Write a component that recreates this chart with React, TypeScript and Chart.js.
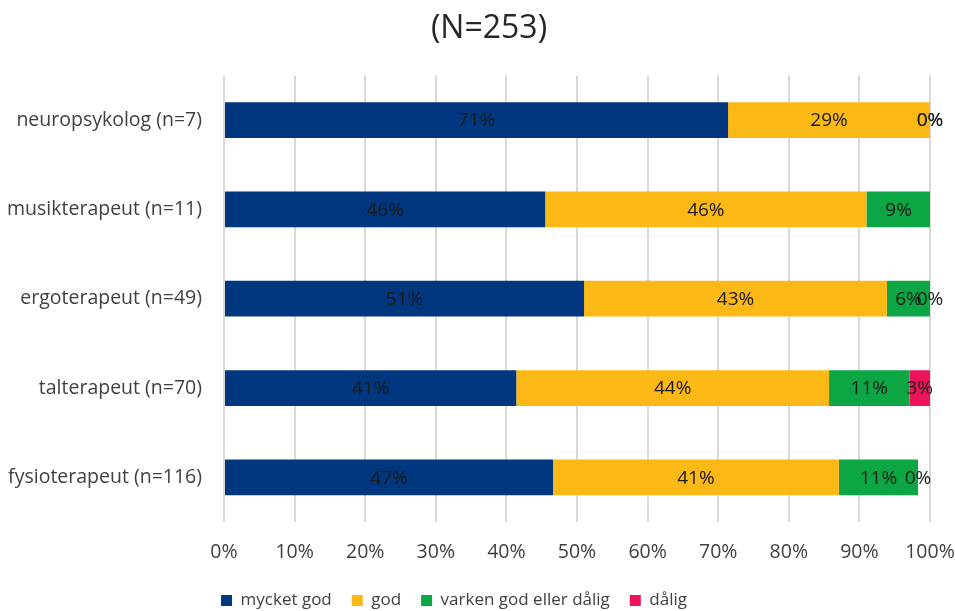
import React, { useEffect, useRef } from "react";
import { Chart, registerables } from "chart.js";

Chart.register(...registerables);

const titleText = "(N=253)";
const categories = [
  "neuropsykolog (n=7)",
  "musikterapeut (n=11)",
  "ergoterapeut (n=49)",
  "talterapeut (n=70)",
  "fysioterapeut (n=116)",
];
const seriesNames = ["mycket god", "god", "varken god eller dålig", "dålig"];
const mycketGod = [71.4, 45.5, 51.0, 41.4, 46.6];
const god = [28.6, 45.5, 42.9, 44.3, 40.5];
const varken = [0, 9.1, 6.1, 11.4, 11.2];
const dalig = [0, 0, 0, 2.9, 0];
const seriesColors = ["#00377F", "#FCB814", "#0CA645", "#EE145C"];
const xTicks = [0, 10, 20, 30, 40, 50, 60, 70, 80, 90, 100];

const FONT = "'Open Sans', 'Noto Sans', sans-serif";

const labelPlugin = {
  id: "segLabels",
  afterLayout(chart: any) {
    if (chart.titleBlock) {
      chart.titleBlock.left += 24;
      chart.titleBlock.right += 24;
    }
    if (chart.legend) {
      chart.legend.left -= 11;
      chart.legend.right -= 11;
    }
  },
  afterDatasetsDraw(chart: any) {
    const ctx = chart.ctx;
    ctx.save();
    ctx.font = `19px ${FONT}`;
    ctx.fillStyle = "#1a1a1a";
    ctx.textAlign = "center";
    ctx.textBaseline = "middle";
    chart.data.datasets.forEach((ds: any, di: number) => {
      const meta = chart.getDatasetMeta(di);
      if (meta.hidden) return;
      meta.data.forEach((el: any, i: number) => {
        const v = ds.data[i];
        if (v === null || v === undefined) return;
        if (di === 3 && v === 0 && i !== 0 && i !== 2 && i !== 4) return;
        const x = (el.x + el.base) / 2;
        ctx.fillText(Math.round(v) + "%", x, el.y + 1);
      });
    });
    ctx.restore();
  },
};

export default function App() {
  const ref = useRef<HTMLCanvasElement>(null);
  useEffect(() => {
    if (!ref.current) return;
    const data = [mycketGod, god, varken, dalig];
    const chart = new Chart(ref.current, {
      type: "bar",
      data: {
        labels: categories,
        datasets: data.map((d, i) => ({
          label: seriesNames[i],
          data: d,
          backgroundColor: seriesColors[i],
          borderWidth: 0,
          barPercentage: 0.4,
          categoryPercentage: 1,
        })),
      },
      options: {
        indexAxis: "y",
        animation: false,
        responsive: false,
        maintainAspectRatio: false,
        layout: { padding: { left: 0, right: 25, top: 10, bottom: 0 } },
        scales: {
          x: {
            stacked: true,
            min: 0,
            max: 100,
            afterBuildTicks: (scale: any) => {
              scale.ticks = xTicks.map((v) => ({ value: v }));
            },
            afterFit: (scale: any) => {
              scale.height = 50;
              scale.paddingLeft = 0;
              scale.paddingRight = 0;
            },
            ticks: {
              callback: (v: any) => v + "%",
              color: "#404040",
              font: { family: FONT, size: 19.5 },
              padding: 19,
            },
            grid: { color: "#D9D9D9", lineWidth: 2, drawTicks: false },
            border: { display: false },
          },
          y: {
            stacked: true,
            afterFit: (scale: any) => {
              scale.width = 224;
            },
            ticks: {
              color: "#404040",
              font: { family: FONT, size: 19.5 },
              padding: 14,
            },
            grid: { display: false },
            border: { display: false },
          },
        },
        plugins: {
          title: {
            display: true,
            text: titleText,
            color: "#262626",
            font: { family: FONT, size: 32, weight: "normal" },
            padding: { top: 0, bottom: 27 },
          },
          legend: {
            position: "bottom",
            labels: {
              boxWidth: 11,
              boxHeight: 11,
              padding: 20,
              color: "#404040",
              font: { family: FONT, size: 17 },
            },
          },
          tooltip: { enabled: false },
        },
      },
      plugins: [labelPlugin],
    });
    return () => chart.destroy();
  }, []);
  return (
    <div
      style={{
        position: "fixed",
        left: 0,
        top: 0,
        width: 955,
        height: 611,
        overflow: "hidden",
        background: "#fff",
      }}
    >
      <canvas ref={ref} width={955} height={619} style={{ display: "block" }} />
    </div>
  );
}
